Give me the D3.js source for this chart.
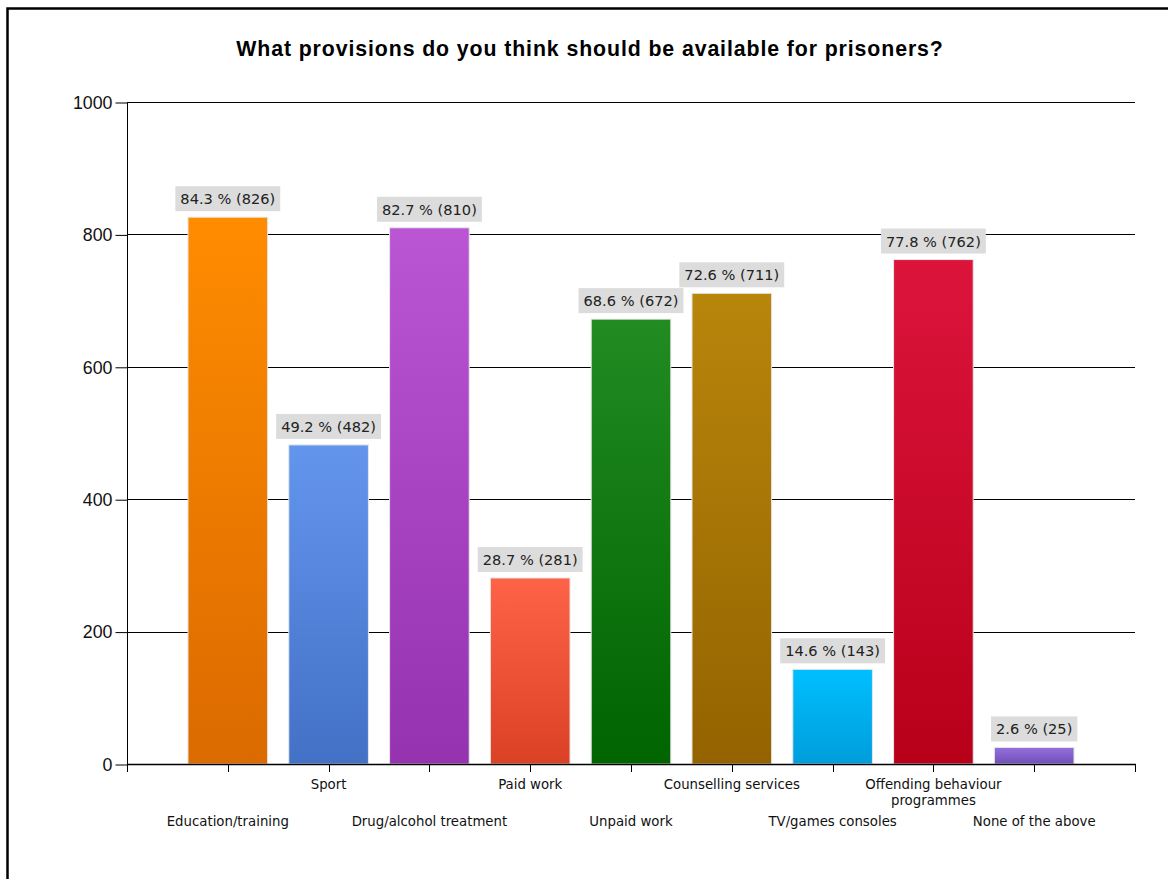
<!DOCTYPE html>
<html>
<head>
<meta charset="utf-8">
<script src="https://cdn.jsdelivr.net/npm/d3@7"></script>
<style>
  html, body { margin: 0; padding: 0; background: #fff; }
  svg { display: block; }
</style>
</head>
<body>
<svg id="chart" width="1168" height="879"></svg>
<script>
const categories = ["Education/training", "Sport", "Drug/alcohol treatment", "Paid work", "Unpaid work",
  "Counselling services", "TV/games consoles", "Offending behaviour programmes", "None of the above"];
const counts = [826, 482, 810, 281, 672, 711, 143, 762, 25];
const percents = [84.3, 49.2, 82.7, 28.7, 68.6, 72.6, 14.6, 77.8, 2.6];
const topColors = ["#FF8C00", "#6495ED", "#BA55D3", "#FF6347", "#228B22", "#B8860B", "#00BFFF", "#DC143C", "#9370DB"];
const bottomColors = ["#DB6A00", "#4271C6", "#9532AF", "#DB4125", "#006400", "#946300", "#009DDB", "#B80019", "#714FB9"];
const yTicks = [0, 200, 400, 600, 800, 1000];
const title = "What provisions do you think should be available for prisoners?";

const svg = d3.select("#chart");
const pLeft = 127, pRight = 1135, pTop = 102, pBottom = 764;

// outer frame
svg.append("rect").attr("x", 7.5).attr("y", 8.5).attr("width", 1200).attr("height", 1000)
  .attr("fill", "none").attr("stroke", "#000").attr("stroke-width", 2.5);

svg.append("text").attr("x", 590).attr("y", 56).attr("text-anchor", "middle")
  .attr("font-family", "Liberation Sans, Arial, sans-serif").attr("font-weight", "bold")
  .attr("font-size", 21.3).attr("letter-spacing", 0.9).attr("fill", "#000").text(title);

const y = d3.scaleLinear().domain([0, 1000]).range([pBottom, pTop]);
const x = d3.scalePoint().domain(categories).range([pLeft, pRight]).padding(1);
const step = x.step();
const barW = step * 0.79;

// gridlines
svg.append("g").selectAll("line").data(yTicks.filter(d => d > 0)).join("line")
  .attr("x1", pLeft).attr("x2", pRight)
  .attr("y1", d => Math.round(y(d)) + 0.5).attr("y2", d => Math.round(y(d)) + 0.5)
  .attr("stroke", "#000").attr("stroke-width", 1);

// y axis
const yAxis = d3.axisLeft(y).tickValues(yTicks).tickSize(12).tickPadding(3).tickFormat(d3.format("d"));
const gy = svg.append("g").attr("transform", `translate(${pLeft + 0.5},0.5)`).call(yAxis);
gy.select(".domain").remove();
gy.selectAll(".tick line").attr("stroke", "#000");
gy.selectAll(".tick text").attr("font-family", "Liberation Sans, Arial, sans-serif")
  .attr("font-size", 17.8).attr("fill", "#111");
svg.append("line").attr("x1", pLeft + 0.5).attr("x2", pLeft + 0.5).attr("y1", pTop).attr("y2", pBottom + 8)
  .attr("stroke", "#000");

// gradients
const defs = svg.append("defs");
categories.forEach((c, i) => {
  const g = defs.append("linearGradient").attr("id", "g" + i)
    .attr("x1", 0).attr("y1", 0).attr("x2", 0).attr("y2", 1);
  g.append("stop").attr("offset", "0%").attr("stop-color", topColors[i]);
  g.append("stop").attr("offset", "100%").attr("stop-color", bottomColors[i]);
});

const data = categories.map((c, i) => ({ c, i, v: counts[i], p: percents[i] }));

// bars
svg.append("g").selectAll("rect").data(data).join("rect")
  .attr("x", d => x(d.c) - barW / 2)
  .attr("y", d => y(d.v))
  .attr("width", barW)
  .attr("height", d => y(0) - y(d.v))
  .attr("fill", d => `url(#g${d.i})`)
  .attr("stroke", "#e6e6e6").attr("stroke-width", 1);

// x baseline + ticks
svg.append("line").attr("x1", pLeft).attr("x2", pRight + 1).attr("y1", pBottom + 0.5).attr("y2", pBottom + 0.5)
  .attr("stroke", "#000").attr("stroke-width", 1.5);
const xTickPos = [pLeft].concat(categories.map(c => x(c))).concat([pRight]);
svg.append("g").selectAll("line").data(xTickPos).join("line")
  .attr("x1", d => Math.round(d) + 0.5).attr("x2", d => Math.round(d) + 0.5)
  .attr("y1", pBottom).attr("y2", pBottom + 8).attr("stroke", "#000");

// value labels
const lab = svg.append("g").selectAll("g").data(data).join("g");
lab.each(function(d) {
  const g = d3.select(this);
  const t = g.append("text").attr("x", x(d.c)).attr("y", y(d.v) - 13)
    .attr("text-anchor", "middle").attr("font-family", "DejaVu Sans, sans-serif")
    .attr("font-size", 14.6).attr("fill", "#222")
    .text(`${d.p.toFixed(1)} % (${d.v})`);
  const bb = t.node().getBBox();
  g.insert("rect", "text").attr("x", bb.x - 5).attr("y", y(d.v) - 31)
    .attr("width", bb.width + 10).attr("height", 25).attr("fill", "#dcdcdc");
});

// category labels
const xl = svg.append("g").selectAll("text").data(data).join("text")
  .attr("x", d => x(d.c))
  .attr("y", d => d.i % 2 === 1 ? 789 : 826)
  .attr("text-anchor", "middle").attr("font-family", "DejaVu Sans, sans-serif")
  .attr("font-size", 13.3).attr("fill", "#111");
xl.each(function(d) {
  const t = d3.select(this);
  if (d.c === "Offending behaviour programmes") {
    t.append("tspan").attr("x", x(d.c)).attr("dy", 0).text("Offending behaviour");
    t.append("tspan").attr("x", x(d.c)).attr("dy", 16).text("programmes");
  } else {
    t.text(d.c);
  }
});
</script>
</body>
</html>
